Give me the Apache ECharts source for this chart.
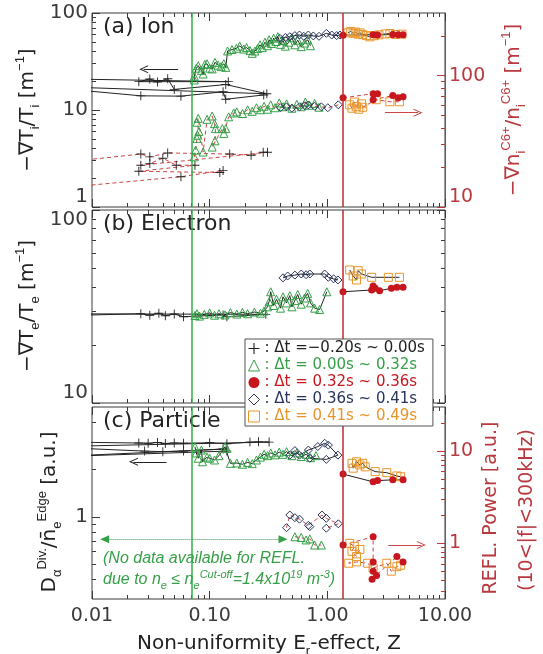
<!DOCTYPE html>
<html>
<head>
<meta charset="utf-8">
<script src="https://cdn.jsdelivr.net/npm/echarts@6/dist/echarts.min.js"></script>
<style>
  html, body { margin: 0; padding: 0; background: #fff; }
  #main { width: 543px; height: 654px; }
</style>
</head>
<body>
<div id="main"></div>
<script>
// ---- axes ----
const xRange = [0.01, 10];
const xMajor = [0.01, 0.1, 1, 10];
const xMajorLabels = ['0.01', '0.10', '1.00', '10.00'];

const ionLeftRange = [1, 100];
const ionLeftTicks = [1, 10, 100];
const ionLeftLabels = ['1', '10', '100'];
const ionRightRange = [10, 300];
const ionRightTicks = [10, 100];
const ionRightLabels = ['10', '100'];
const eleRange = [10, 100];
const eleTicks = [10, 100];
const eleLabels = ['10', '100'];
const parLeftRange = [0.3, 5];
const parLeftTicks = [1];
const parLeftLabels = ['1'];
const parRightRange = [0.25, 30];
const parRightTicks = [1, 10];
const parRightLabels = ['1', '10'];

// ---- (a) Ion : left = -gradTi/Ti, right = -grad nC6+/nC6+ ----
const ionCrossL = [[0.003,21.2],[0.144,19.6],[0.025,19.6],[0.031,20.9],[0.036,19.4],[0.044,21.0],[0.050,16.3],[0.137,18.3],[0.306,14.7],[0.003,17.8],[0.026,14.0],[0.057,13.9],[0.130,15.4],[0.137,12.9],[0.288,14.3]];
const ionTriL = [[0.074,20.4],[0.074,22.2],[0.077,27.0],[0.080,28.6],[0.085,25.5],[0.088,23.5],[0.091,29.5],[0.095,30.0],[0.100,27.0],[0.105,26.5],[0.111,31.0],[0.118,29.0],[0.125,28.0],[0.132,30.0],[0.137,27.5],[0.142,40.6],[0.155,42.0],[0.169,43.3],[0.180,45.6],[0.195,42.5],[0.206,44.0],[0.220,41.0],[0.230,38.4],[0.242,40.5],[0.255,43.0],[0.268,47.0],[0.280,44.0],[0.295,50.0],[0.310,46.0],[0.320,53.0],[0.335,48.5],[0.350,55.0],[0.365,50.9],[0.380,57.0],[0.400,47.5],[0.420,52.0],[0.440,45.5],[0.470,50.0],[0.500,55.5],[0.530,47.0],[0.560,52.5],[0.600,45.0],[0.640,49.0],[0.680,53.0],[0.720,46.0]];
const ionDotL = [[1.36,59.0],[2.45,59.8],[2.67,59.3],[3.6,60.2],[4.0,59.5],[4.4,59.8]];
const ionDiaL = [[0.395,54.8],[0.44,56.0],[0.48,57.0],[0.53,58.5],[0.58,59.3],[0.63,57.5],[0.69,59.3],[0.76,58.0],[0.85,57.5],[0.98,61.7],[1.09,59.3],[1.20,58.5],[1.28,59.3]];
const ionSqL = [[1.50,62.5],[1.58,64.5],[1.66,61.8],[1.74,63.5],[1.82,60.5],[1.90,62.3],[2.00,59.8],[2.15,58.5],[2.30,56.8],[2.50,58.3],[2.75,59.5],[3.10,60.8],[3.40,61.5],[3.80,60.0],[4.30,60.5]];

const ionCrossR = [[0.003,20.6],[0.026,25.3],[0.031,24.1],[0.044,25.8],[0.148,25.3],[0.225,24.8],[0.285,26.1],[0.31,26.1],[0.026,20.8],[0.031,21.4],[0.040,23.5],[0.052,20.8],[0.075,20.8],[0.025,18.7],[0.122,18.3],[0.130,19.0],[0.057,17.0],[0.003,13.3]];
const ionTriR = [[0.074,24.1],[0.076,27.1],[0.078,33.3],[0.079,35.2],[0.081,37.6],[0.078,44.2],[0.080,47.3],[0.088,26.2],[0.095,46.5],[0.105,49.3],[0.110,43.1],[0.112,39.5],[0.111,31.9],[0.105,28.6],[0.128,39.5],[0.137,39.5],[0.132,36.3],[0.145,48.6],[0.160,52.0],[0.170,53.0],[0.190,51.5],[0.210,55.0],[0.230,53.5],[0.250,57.0],[0.270,55.0],[0.290,58.5],[0.310,55.5],[0.330,60.0],[0.360,57.0],[0.390,62.0],[0.420,58.0],[0.450,61.0],[0.500,56.5],[0.550,60.5],[0.600,58.0],[0.650,63.0],[0.700,59.5],[0.780,61.5],[0.850,57.5]];
const ionDotR = [[1.36,67.8],[2.45,72.9],[2.67,72.9],[2.45,65.6],[3.6,70.5],[4.0,67.8],[4.4,69.2]];
const ionDiaR = [[0.40,57.0],[0.45,57.9],[0.50,56.5],[0.58,57.9],[0.64,59.0],[0.69,59.9],[0.78,58.5],[0.89,57.9],[1.01,57.0],[1.24,60.0]];
const ionSqR = [[1.55,60.0],[1.62,56.5],[1.70,63.0],[1.76,58.0],[1.85,55.5],[1.95,61.0],[2.00,57.5],[2.60,65.6],[3.40,63.3],[4.10,63.3]];

// ---- (b) Electron : -gradTe/Te ----
const eleCross = [[0.004,28.2],[0.026,29.0],[0.031,28.5],[0.037,29.2],[0.042,28.3],[0.050,28.9],[0.060,28.0],[0.13,28.6],[0.14,28.0],[0.30,28.8],[0.004,29.0]];
const eleTri = [[0.075,28.4],[0.078,29.0],[0.082,28.2],[0.09,28.8],[0.10,29.3],[0.11,28.5],[0.12,29.0],[0.135,28.6],[0.15,29.4],[0.17,28.9],[0.19,29.5],[0.21,29.0],[0.24,29.6],[0.27,29.2],[0.29,30.0],[0.31,31.5],[0.32,33.5],[0.33,37.7],[0.35,32.0],[0.37,34.5],[0.40,31.0],[0.42,35.5],[0.45,33.0],[0.48,36.0],[0.50,31.5],[0.53,34.0],[0.56,36.5],[0.60,32.5],[0.64,35.0],[0.68,37.0],[0.72,33.0],[0.78,31.0],[0.86,30.5],[0.99,37.7]];
const eleDot = [[1.36,37.7],[2.38,38.5],[2.45,40.4],[2.55,39.3],[2.78,38.2],[3.5,39.3],[3.9,39.8],[4.4,39.8]];
const eleDia = [[0.42,44.5],[0.46,45.5],[0.53,46.0],[0.60,46.6],[0.66,46.2],[0.71,46.6],[0.95,46.6],[1.02,44.8],[1.13,44.0],[1.23,43.4]];
const eleSq = [[1.55,48.9],[1.66,45.5],[1.77,43.4],[1.83,48.5],[1.95,46.6],[2.38,44.8],[3.3,44.8],[4.1,44.8]];

// ---- (c) Particle : left = D_alpha/ne, right = REFL. power ----
const parCrossL = [[0.004,3.0],[0.025,2.95],[0.030,2.94],[0.036,2.97],[0.042,2.93],[0.050,2.95],[0.060,2.94],[0.10,2.96],[0.14,2.92],[0.22,2.99],[0.26,3.0],[0.32,2.99],[0.004,2.79],[0.028,2.62],[0.040,2.60],[0.060,2.62],[0.13,2.70],[0.004,2.40],[0.14,2.62]];
const parTriL = [[0.075,2.79],[0.077,2.55],[0.08,2.36],[0.085,2.66],[0.087,2.24],[0.095,2.40],[0.10,2.36],[0.11,2.30],[0.12,2.45],[0.135,2.79],[0.14,2.72],[0.15,2.19],[0.17,2.20],[0.19,2.16],[0.21,2.22],[0.23,2.18],[0.25,2.30],[0.27,2.40],[0.29,2.50],[0.31,2.45],[0.33,2.55],[0.36,2.48],[0.39,2.58],[0.42,2.50],[0.45,2.60],[0.50,2.45],[0.55,2.55],[0.60,2.42],[0.66,2.50],[0.72,2.38],[0.80,2.45]];
const parDotL = [[1.36,1.87],[2.45,1.67],[2.67,1.70],[3.6,1.72],[4.4,1.72]];
const parDiaL = [[0.48,2.47],[0.53,2.64],[0.58,2.47],[0.69,2.66],[0.83,2.80],[0.95,2.94],[1.02,2.86],[1.23,2.47],[0.98,2.32],[0.71,2.36]];
const parSqL = [[1.62,2.19],[1.66,2.04],[1.77,2.24],[1.89,2.14],[2.0,2.19],[2.1,2.08],[2.55,1.94],[3.2,1.91],[3.9,1.82],[4.2,1.80]];

const parTriR = [[0.53,1.18],[0.60,1.16],[0.66,1.09],[0.71,1.12],[0.78,0.96],[0.89,0.96]];
const parDotR = [[1.36,0.96],[2.45,1.18],[2.45,0.63],[2.45,0.50],[2.62,0.45],[2.40,0.41],[3.9,0.72],[4.4,0.63]];
const parDiaR = [[0.45,1.48],[0.48,2.03],[0.53,1.90],[0.58,1.83],[0.69,1.57],[0.71,1.52],[0.90,2.03],[0.98,1.87],[1.24,1.63],[0.98,1.46]];
const parSqR = [[1.55,1.0],[1.70,0.93],[1.62,0.82],[1.77,0.72],[1.89,0.86],[1.52,0.61],[1.77,0.63],[2.2,0.61],[2.45,0.54],[3.2,0.61],[3.5,0.50],[3.9,0.56],[4.2,0.58]];

// legend texts
const legendNames = ['g1', 'g2', 'g3', 'g4', 'g5'];
const legendLabels = [': \u0394t =\u22120.20s ~ 0.00s', ': \u0394t = 0.00s ~ 0.32s', ': \u0394t = 0.32s ~ 0.36s', ': \u0394t = 0.36s ~ 0.41s', ': \u0394t = 0.41s ~ 0.49s'];

// annotation lines (Z) and arrows, in data coordinates
const zGreen = 0.074;
const zRed = 1.36;
const arrowIonLeft = [[0.054, 26.3], [0.0275, 26.3]];
const arrowIonRight = [[3.1, 52.2], [5.9, 52.2]];
const arrowParLeft = [[0.043, 2.24], [0.0225, 2.24]];
const arrowParRight = [[3.3, 0.96], [6.3, 0.96]];
const arrowNoData = [[0.0128, 0.72], [0.42, 0.72]];

// ---- styles ----
const FONT = 'DejaVu Sans';
const INK = '#222';
const FRAME = '#3a3a3a';
const GREEN = '#35a047';
const GREEN_LINE = '#2fae45';
const RED = '#c8161e';
const RED_AXIS = '#b8393e';
const RED_VLINE = '#c0282e';
const RED_DASH = '#cc4444';
const NAVY = '#28345e';
const ORANGE = '#e8952a';
const crossPath = 'path://M4.5,0h1v4.5h4.5v1h-4.5v4.5h-1v-4.5h-4.5v-1h4.5z';
const headPath = 'path://M0,10L5,0L10,10L8.8,10L5,2.6L1.2,10Z';

const STYLE = {
  g1: { symbol: crossPath, symbolSize: 9, itemStyle: { color: INK, borderWidth: 0 } },
  g2: { symbol: 'triangle', symbolSize: 8, itemStyle: { color: 'transparent', borderColor: GREEN, borderWidth: 1 } },
  g3: { symbol: 'circle', symbolSize: 7, itemStyle: { color: RED, borderWidth: 0 } },
  g4: { symbol: 'diamond', symbolSize: 8, itemStyle: { color: 'transparent', borderColor: NAVY, borderWidth: 1 } },
  g5: { symbol: 'rect', symbolSize: 8, itemStyle: { color: 'transparent', borderColor: ORANGE, borderWidth: 1 } }
};

function minorTicks(range) {
  const out = [];
  const lo = Math.floor(Math.log10(range[0])), hi = Math.ceil(Math.log10(range[1]));
  for (let n = lo; n < hi; n++) {
    for (let k = 2; k <= 9; k++) {
      const v = k * Math.pow(10, n);
      if (v > range[0] * 1.0001 && v < range[1] * 0.9999) out.push(Math.log10(v));
    }
  }
  return out;
}

const xAxis = [];
const yAxis = [];

// hidden log axis that carries the data
function logAxis(list, grid, range, position) {
  list.push({ type: 'log', gridIndex: grid, position, min: range[0], max: range[1], show: false, axisLine: { onZero: false } });
  return list.length - 1;
}

// visible frame ticks: majors (+labels) and minors, drawn on a log10 value axis
function tickAxes(list, grid, position, range, majors, labels, color, opts) {
  opts = opts || {};
  const lo = Math.log10(range[0]), hi = Math.log10(range[1]);
  const majorLog = majors.map(Math.log10);
  const base = { type: 'value', gridIndex: grid, position, min: lo, max: hi, splitLine: { show: false }, z: 3 };
  list.push(Object.assign({}, base, {
    axisLine: { show: !!opts.line, onZero: false, lineStyle: { color, width: 1 } },
    axisTick: { show: true, inside: true, length: 8, customValues: majorLog, lineStyle: { color } },
    axisLabel: labels ? Object.assign({
      show: true, customValues: majorLog, color, fontFamily: FONT, fontSize: opts.fontSize || 19, margin: opts.margin || 4,
      formatter: v => labels[majorLog.findIndex(m => Math.abs(m - v) < 1e-6)] || ''
    }, opts.label || {}) : { show: false }
  }));
  list.push(Object.assign({}, base, {
    axisLine: { show: false, onZero: false },
    axisTick: { show: true, inside: true, length: 4, customValues: minorTicks(range), lineStyle: { color } },
    axisLabel: { show: false }
  }));
}

const grids = [
  { left: 92, right: 98, top: 13, height: 194 },
  { left: 92, right: 98, top: 210, height: 193 },
  { left: 92, right: 98, top: 407, height: 192 }
].map(g => Object.assign(g, { show: true, borderColor: FRAME, borderWidth: 1, outerBoundsMode: 'none', containLabel: false }));

// x axes
const xi = [];
for (let g = 0; g < 3; g++) {
  xi.push(logAxis(xAxis, g, xRange, 'bottom'));
  tickAxes(xAxis, g, 'bottom', xRange, xMajor, g === 2 ? xMajorLabels : null, FRAME, { margin: 8, fontSize: 19 });
  tickAxes(xAxis, g, 'top', xRange, xMajor, null, FRAME);
}

// y axes
const yIonL = logAxis(yAxis, 0, ionLeftRange, 'left');
const yIonR = logAxis(yAxis, 0, ionRightRange, 'right');
tickAxes(yAxis, 0, 'left', ionLeftRange, ionLeftTicks, ionLeftLabels, FRAME, { fontSize: 20, label: { verticalAlignMinLabel: 'bottom' } });
tickAxes(yAxis, 0, 'right', ionRightRange, ionRightTicks, ionRightLabels, RED_AXIS, { line: true, label: { verticalAlignMinLabel: 'bottom' } });

const yEle = logAxis(yAxis, 1, eleRange, 'left');
tickAxes(yAxis, 1, 'left', eleRange, eleTicks, eleLabels, FRAME, { fontSize: 20, label: { verticalAlignMinLabel: 'bottom', verticalAlignMaxLabel: 'top' } });
tickAxes(yAxis, 1, 'right', eleRange, eleTicks, null, FRAME);

const yParL = logAxis(yAxis, 2, parLeftRange, 'left');
const yParR = logAxis(yAxis, 2, parRightRange, 'right');
tickAxes(yAxis, 2, 'left', parLeftRange, parLeftTicks, parLeftLabels, FRAME, { fontSize: 20 });
tickAxes(yAxis, 2, 'right', parRightRange, parRightTicks, parRightLabels, RED_AXIS, { line: true });

function track(name, data, x, y, dashed) {
  const s = STYLE[name];
  return {
    type: 'line', name, data, xAxisIndex: x, yAxisIndex: y,
    symbol: s.symbol, symbolSize: s.symbolSize, showAllSymbol: true, itemStyle: s.itemStyle,
    lineStyle: dashed ? { color: RED_DASH, width: 1, type: [4, 3] } : { color: INK, width: 1 },
    clip: true, silent: true, animation: false, emphasis: { disabled: true }, z: 2
  };
}

// one markLine block per series, coloured at block level
function marker(color, data, type, width) {
  return {
    silent: true, animation: false, symbol: ['none', 'none'], label: { show: false },
    emphasis: { disabled: true }, lineStyle: { color, width: width || 1, type: type || 'solid', opacity: 1 }, data
  };
}
function arrow(pts, headFrom, headTo) {
  return [
    { coord: pts[0], symbol: headFrom, symbolSize: [8, 9] },
    { coord: pts[1], symbol: headTo, symbolSize: [8, 9] }
  ];
}

const series = [];
function panelLeft(cross, tri, dia, sq, dot, x, y, arrowPts) {
  const sC = track('g1', cross, x, y);
  sC.markLine = marker(GREEN_LINE, [{ xAxis: zGreen }], 'solid', 1.5);
  const sD = track('g3', dot, x, y);
  sD.markLine = marker(RED_VLINE, [{ xAxis: zRed }], 'solid', 1.5);
  const sDia = track('g4', dia, x, y);
  if (arrowPts) sDia.markLine = marker(INK, [arrow(arrowPts, 'none', headPath)]);
  const sT = track('g2', tri, x, y);
  series.push(sC, sT, sDia, track('g5', sq, x, y), sD);
  return sT;
}
// (a)
panelLeft(ionCrossL, ionTriL, ionDiaL, ionSqL, ionDotL, xi[0], yIonL, arrowIonLeft);
const sIonDotR = track('g3', ionDotR, xi[0], yIonR, true);
sIonDotR.markLine = marker(RED_DASH, [arrow(arrowIonRight, 'none', headPath)]);
series.push(track('g1', ionCrossR, xi[0], yIonR, true),
  track('g2', ionTriR, xi[0], yIonR, true), track('g4', ionDiaR, xi[0], yIonR, true),
  track('g5', ionSqR, xi[0], yIonR, true), sIonDotR);
// (b)
panelLeft(eleCross, eleTri, eleDia, eleSq, eleDot, xi[1], yEle, null);
// (c)
const sParTriL = panelLeft(parCrossL, parTriL, parDiaL, parSqL, parDotL, xi[2], yParL, arrowParLeft);
sParTriL.markLine = marker(GREEN, [arrow(arrowNoData, 'triangle', 'triangle')], 'dotted');
const sParDotR = track('g3', parDotR, xi[2], yParR, true);
sParDotR.markLine = marker(RED_DASH, [arrow(arrowParRight, 'none', headPath)]);
series.push(track('g2', parTriR, xi[2], yParR, true), track('g4', parDiaR, xi[2], yParR, true),
  track('g5', parSqR, xi[2], yParR, true), sParDotR);

// ---- text ----
const RICH = {
  sub: { fontSize: 13, verticalAlign: 'bottom', lineHeight: 13 },
  sup: { fontSize: 13, verticalAlign: 'top', lineHeight: 13 }
};
function txt(x, y, text, style, rot) {
  return {
    type: 'text', x, y, rotation: rot || 0, silent: true,
    style: Object.assign({ text, fontFamily: FONT, fontSize: 20, lineHeight: 28, fill: INK, align: 'center', verticalAlign: 'middle', rich: RICH }, style || {})
  };
}
const UP = Math.PI / 2;
const noteRich = {
  sub: { fontSize: 11, verticalAlign: 'bottom', lineHeight: 11, fontStyle: 'italic', fontFamily: 'Liberation Sans' },
  sup: { fontSize: 11, verticalAlign: 'top', lineHeight: 11, fontStyle: 'italic', fontFamily: 'Liberation Sans' }
};
const graphics = [
  txt(103, 27, '(a) Ion', { align: 'left', fontSize: 22 }),
  txt(103, 224, '(b) Electron', { align: 'left', fontSize: 22 }),
  txt(103, 421, '(c) Particle', { align: 'left', fontSize: 22 }),
  txt(28, 110, '\u2212\u2207T{sub|i}/T{sub|i} [m{sup|\u22121}]', {}, UP),
  txt(28, 306, '\u2212\u2207T{sub|e}/T{sub|e} [m{sup|\u22121}]', {}, UP),
  txt(50, 512, 'D{sub|\u03b1}{sup|Div.}/n\u0304{sub|e}{sup|Edge} [a.u.]', {}, UP),
  txt(514, 110, '\u2212\u2207n{sub|i}{sup|C6+}/n{sub|i}{sup|C6+} [m{sup|\u22121}]', { fill: RED_AXIS }, UP),
  txt(491, 508, 'REFL. Power [a.u.]', { fill: RED_AXIS, fontSize: 19 }, UP),
  txt(527, 510, '(10<|f|<300kHz)', { fill: RED_AXIS, fontSize: 19 }, UP),
  txt(269, 644, 'Non-uniformity E{sub|r}-effect, Z', { fontSize: 20 }),
  txt(103, 559, '(No data available for REFL.', { align: 'left', fill: GREEN, fontSize: 16, fontStyle: 'italic', fontFamily: 'Liberation Sans', lineHeight: 22, rich: noteRich }),
  txt(103, 580, 'due to n{sub|e} \u2264 n{sub|e}{sup|Cut-off}=1.4x10{sup|19} m{sup|-3})', { align: 'left', fill: GREEN, fontSize: 16, fontStyle: 'italic', fontFamily: 'Liberation Sans', lineHeight: 22, rich: noteRich })
];

const legendColors = [INK, GREEN, RED, NAVY, ORANGE];
const legendIcons = [crossPath, 'triangle', 'circle', 'diamond', 'rect'];

const option = {
  animation: false,
  backgroundColor: '#fff',
  textStyle: { fontFamily: FONT },
  grid: grids,
  xAxis,
  yAxis,
  legend: {
    orient: 'vertical', left: 245, top: 339, padding: [2, 8, 2, 3], itemGap: 2, itemWidth: 11, itemHeight: 11,
    backgroundColor: '#fff', borderColor: '#555', borderWidth: 1, selectedMode: false, z: 10,
    textStyle: { fontFamily: FONT, fontSize: 15 },
    formatter: name => legendLabels[legendNames.indexOf(name)],
    data: legendNames.map((n, i) => ({
      name: n, icon: legendIcons[i],
      itemStyle: i === 0 || i === 2 ? { color: legendColors[i], borderWidth: 0 } : { color: '#fff', borderColor: legendColors[i], borderWidth: 1 },
      textStyle: { color: legendColors[i] }
    }))
  },
  series,
  graphic: { elements: graphics }
};

const chart = echarts.init(document.getElementById('main'), null, { renderer: 'canvas' });
chart.setOption(option);
</script>
</body>
</html>
